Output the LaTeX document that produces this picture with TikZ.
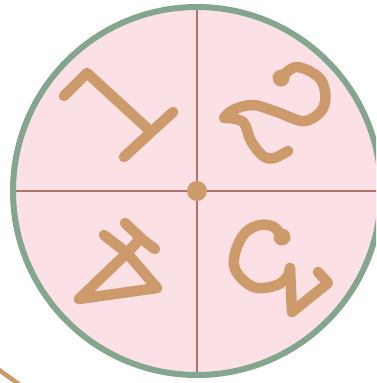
\documentclass[tikz,border=0pt]{standalone}
\definecolor{diskpink}{HTML}{FBE1E6}
\definecolor{rimgreen}{HTML}{84A68E}
\definecolor{inktan}{HTML}{CC9A6B}
\definecolor{crossred}{HTML}{B07468}
\tikzset{glyph/.style={draw=inktan, line width=10.5pt, line cap=round, line join=round}}
\begin{document}
\begin{tikzpicture}[x=1pt,y=-1pt]
\useasboundingbox (0,0) rectangle (376,383);
\clip (0,0) rectangle (376,383);
\coordinate (c) at (197,191);
\fill[diskpink] (c) circle (184pt);
\draw[crossred, line width=1.3pt] (197,7) -- (197,375);
\draw[crossred, line width=1.3pt] (13,191) -- (381,191);
\draw[rimgreen, line width=6pt] (c) circle (184pt);
\fill[inktan] (c) circle (10pt);

% 1
\draw[glyph] (64,96) -- (87,73) -- (147,128);
\draw[glyph] (173,112) -- (124,157);

% 2
\fill[inktan] (281,78) circle (8.5pt);
\draw[glyph] plot[smooth, tension=0.6] coordinates {(281,78) (297,67) (321,80) (324,106) (305,121) (277,112) (253,105) (233,110) (224,118)};
\draw[glyph] plot[smooth, tension=0.6] coordinates {(226,118) (243,122) (251,141) (263,156) (274,158) (288,151)};

% 4
\draw[glyph] (125,223) -- (143,240) -- (155,249);
\draw[glyph] (104,235) -- (127,253);
\draw[glyph] (139,240) -- (127,253);
\draw[glyph] (127,253) -- (79,299) -- (157,288) -- cycle;

% 5
\fill[inktan] (282,237) circle (8.5pt);
\draw[glyph] plot[smooth, tension=0.6] coordinates {(282,237) (274,227) (260,225) (246,232) (237,247) (234,265) (242,279) (257,288) (277,285) (287,277) (290,268)};
\draw[glyph] (290,268) -- (292,312) -- (328,283) -- (318,272);

\draw[inktan, line width=4.5pt] (-5,367) -- (20,385);
\end{tikzpicture}
\end{document}
